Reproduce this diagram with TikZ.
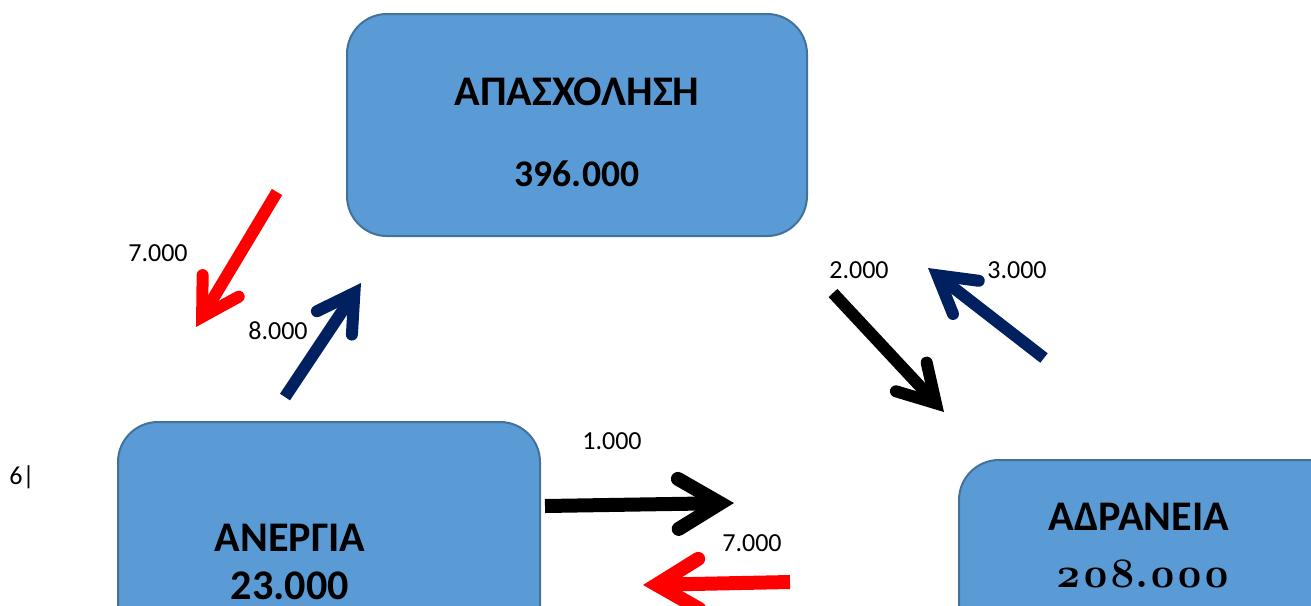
\documentclass[tikz,border=0pt]{standalone}
\usepackage{fontspec}
\setmainfont{Carlito}
\newfontfamily\oldnums{Latin Modern Roman}[Numbers=OldStyle]
\usetikzlibrary{arrows.meta}
\newlength{\du}
\setlength{\du}{0.01cm}
\definecolor{boxfill}{HTML}{5B9BD5}
\definecolor{boxline}{HTML}{41719C}
\definecolor{flowred}{HTML}{FF0000}
\definecolor{flownavy}{HTML}{002060}
\tikzset{
  sectorbox/.style={draw=boxline, fill=boxfill, line width=2\du, rounded corners=40\du, inner sep=0pt},
  sectortitle/.style={font=\fontsize{12}{14}\selectfont\bfseries, inner sep=0pt},
  flowlabel/.style={font=\fontsize{7.4}{9}\selectfont, inner sep=0pt},
  flowarrow/.style={line width=12\du, -{Straight Barb[line cap=round, line join=miter, length=0.36cm, width=0.42cm]}},
  wideflow/.style={line width=14\du, -{Straight Barb[line cap=round, line join=miter, length=0.42cm, width=0.5cm]}},
}
\begin{document}
\begin{tikzpicture}
\pgftransformxscale{1.000000}
\pgftransformyscale{-1.000000}
\useasboundingbox (0\du,0\du) rectangle (1311\du,605\du);
% sector boxes
\node[sectorbox, minimum width=460\du, minimum height=222\du] (apasx) at (577\du,125\du) {};
\node[sectorbox, minimum width=422\du, minimum height=260\du] (anerg) at (329\du,552\du) {};
\fill[black!70, rounded corners=40\du] (963\du,463\du) rectangle (1360\du,700\du);
\node[sectorbox, minimum width=390\du, minimum height=240\du] (adran) at (1154\du,580\du) {};
% setfont left to latex
\node[sectortitle] (apasxname) at (577\du,92\du) {ΑΠΑΣΧΟΛΗΣΗ};
\node[sectortitle, font=\fontsize{10.7}{13}\selectfont\bfseries] (apasxnum) at (577\du,174\du) {396.000};
\node[sectortitle] (anergname) at (290\du,538\du) {ΑΝΕΡΓΙΑ};
\node[sectortitle] (anergnum) at (290\du,586\du) {23.000};
\node[sectortitle] (adranname) at (1139\du,517\du) {ΑΔΡΑΝΕΙΑ};
\node[sectortitle, font=\fontsize{12}{14}\selectfont\oldnums\bfseries] (adrannum) at (1143\du,574\du) {208.000};
% flows
\coordinate (ea1) at (277\du,192\du);
\coordinate (ea2) at (196\du,327\du);
\draw[flowarrow, flowred] (ea1) -- (ea2);
\coordinate (ae1) at (285\du,397\du);
\coordinate (ae2) at (361\du,283\du);
\draw[flowarrow, flownavy] (ae1) -- (ae2);
\coordinate (ed1) at (833\du,293\du);
\coordinate (ed2) at (944\du,412\du);
\draw[flowarrow, black] (ed1) -- (ed2);
\coordinate (de1) at (1044\du,358\du);
\coordinate (de2) at (928\du,268\du);
\draw[flowarrow, flownavy] (de1) -- (de2);
\coordinate (ad1) at (545\du,506\du);
\coordinate (ad2) at (734\du,503\du);
\draw[wideflow, black] (ad1) -- (ad2);
\coordinate (da1) at (790\du,582\du);
\coordinate (da2) at (643\du,585\du);
\draw[wideflow, flowred] (da1) -- (da2);
% flow labels
\node[flowlabel] (ealabel) at (158\du,253\du) {7.000};
\node[flowlabel] (aelabel) at (278\du,331\du) {8.000};
\node[flowlabel] (edlabel) at (859\du,270\du) {2.000};
\node[flowlabel] (delabel) at (1017\du,270\du) {3.000};
\node[flowlabel] (adlabel) at (612\du,441\du) {1.000};
\node[flowlabel] (dalabel) at (752\du,543\du) {7.000};
\node[flowlabel] (pagenum) at (22\du,477\du) {6|};
\end{tikzpicture}
\end{document}
